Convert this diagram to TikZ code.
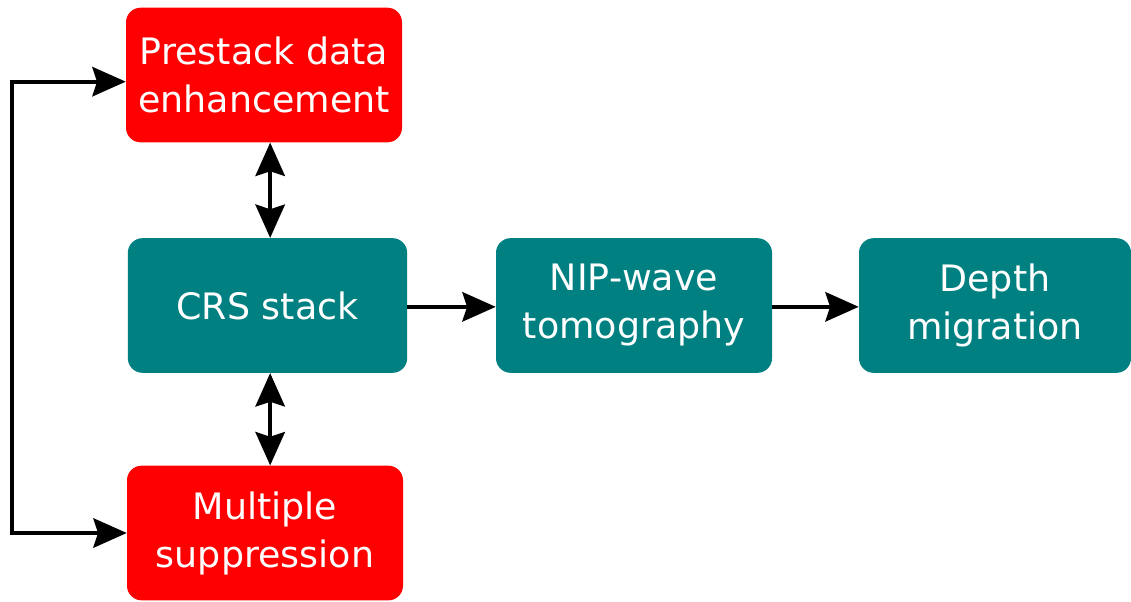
\documentclass[tikz,border=0pt]{standalone}
\usepackage{fontspec}
\setmainfont{DejaVu Sans}
\usetikzlibrary{arrows.meta}
\definecolor{boxred}{RGB}{255,0,0}
\definecolor{boxteal}{RGB}{0,128,128}
\tikzstyle{block}=[rounded corners=11pt,minimum width=207pt,minimum height=101pt,inner sep=0pt,align=center,text=white,font=\fontsize{27.3}{36}\selectfont]
\tikzstyle{redblock}=[block,fill=boxred]
\tikzstyle{tealblock}=[block,fill=boxteal]
\tikzstyle{edge} = [draw,line width=3pt,arrows={-Stealth[length=25pt,width=22pt,inset=3.5pt]}]
\tikzstyle{dedge} = [draw,line width=3pt,arrows={Stealth[length=25pt,width=22pt,inset=3.5pt]-Stealth[length=25pt,width=22pt,inset=3.5pt]}]

\begin{document}
\begin{tikzpicture}[x=0.75pt,y=-0.75pt]
    \useasboundingbox (0,0) rectangle (1131,601);
    % First the blocks
    \node[redblock] (prestack) at (264,75) {Prestack data\\enhancement};
    \node[tealblock,minimum width=209.5pt] (crs) at (267.5,305.5) {CRS stack};
    \node[tealblock] (nip) at (634,305.5) {NIP-wave\\tomography};
    \node[tealblock,minimum width=204pt] (depth) at (995,305.5) {Depth\\migration};
    \node[redblock] (multiple) at (265,533) {Multiple\\suppression};
    % Then the connectors
    \path[dedge] ([xshift=2pt]crs.north) -- ([xshift=2pt]crs.north |- prestack.south);
    \path[dedge] ([xshift=2pt]crs.south) -- ([xshift=2pt]crs.south |- multiple.north);
    \foreach \source/ \dest in {crs/nip, nip/depth}
        \path[edge] ([yshift=-1pt]\source.east) -- ([yshift=-1pt]\dest.west);
    \path[dedge] ([yshift=-5pt]prestack.west) -- ++(-114,0) |- (multiple.west);
\end{tikzpicture}
\end{document}
